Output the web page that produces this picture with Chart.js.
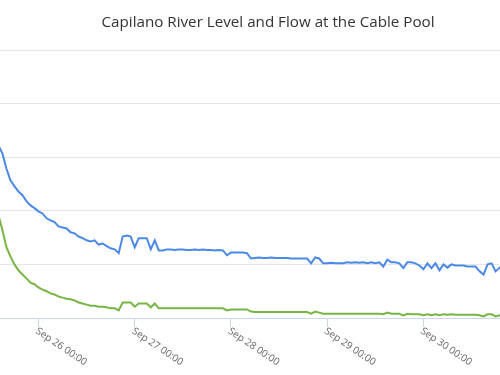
<!DOCTYPE html>
<html>
<head>
<meta charset="utf-8">
<script src="https://cdn.jsdelivr.net/npm/chart.js@4/dist/chart.umd.min.js"></script>
<style>
  html, body { margin: 0; padding: 0; background: #ffffff; }
  #wrap { width: 500px; height: 375px; position: relative; }
</style>
</head>
<body>
<div id="wrap"><canvas id="c"></canvas></div>
<script>
// Chart title
const chartTitle = 'Capilano River Level and Flow at the Cable Pool';

// Hours counted from Sep 25 00:00; first sample at hour 14, one sample per hour
const startHour = 14;

// Tick positions (hours since Sep 25 00:00) and their labels
const tickHours = [24, 48, 72, 96, 120];
const tickLabels = ['Sep 26 00:00', 'Sep 27 00:00', 'Sep 28 00:00', 'Sep 29 00:00', 'Sep 30 00:00'];

// River level (blue), hourly readings
const levelValues = [
  3.22,3.07,2.79,2.57,2.46,2.36,2.29,2.18,2.10,2.05,
  1.99,1.95,1.86,1.82,1.79,1.71,1.69,1.67,1.60,1.58,
  1.52,1.49,1.45,1.43,1.45,1.37,1.39,1.34,1.30,1.28,
  1.21,1.52,1.54,1.52,1.32,1.49,1.49,1.49,1.28,1.45,
  1.26,1.26,1.28,1.28,1.27,1.28,1.28,1.27,1.27,1.28,
  1.27,1.28,1.27,1.27,1.26,1.27,1.26,1.17,1.22,1.22,
  1.22,1.22,1.21,1.11,1.12,1.13,1.12,1.12,1.13,1.12,
  1.12,1.12,1.12,1.11,1.11,1.11,1.11,1.11,1.02,1.13,
  1.11,1.02,1.02,1.03,1.02,1.02,1.02,1.04,1.03,1.04,
  1.03,1.04,1.02,1.04,1.02,1.04,0.96,1.09,1.04,1.04,
  1.02,0.93,1.04,1.04,1.02,0.98,0.91,1.02,0.93,1.02,
  0.89,1.00,0.94,1.00,0.98,0.98,0.98,0.96,0.96,0.96,
  0.87,0.81,1.00,1.02,0.87,0.94,0.96
];

// River flow (green), hourly readings
const flowValues = [
  1.92,1.64,1.32,1.15,1.00,0.89,0.81,0.74,0.66,0.63,
  0.57,0.53,0.50,0.46,0.44,0.40,0.38,0.36,0.35,0.33,
  0.29,0.27,0.25,0.23,0.23,0.21,0.21,0.20,0.18,0.18,
  0.14,0.29,0.29,0.29,0.21,0.27,0.27,0.27,0.20,0.27,
  0.18,0.18,0.18,0.18,0.18,0.18,0.18,0.18,0.18,0.18,
  0.18,0.18,0.18,0.18,0.18,0.18,0.18,0.14,0.16,0.16,
  0.16,0.16,0.16,0.12,0.11,0.11,0.11,0.11,0.11,0.11,
  0.11,0.11,0.11,0.11,0.11,0.11,0.11,0.11,0.08,0.12,
  0.10,0.08,0.08,0.08,0.08,0.08,0.08,0.08,0.08,0.08,
  0.08,0.08,0.08,0.08,0.08,0.08,0.07,0.10,0.08,0.08,
  0.08,0.05,0.08,0.07,0.07,0.07,0.05,0.07,0.05,0.07,
  0.05,0.07,0.06,0.07,0.06,0.06,0.06,0.06,0.06,0.06,
  0.05,0.03,0.07,0.07,0.03,0.05,0.05
];

const toPoints = vals => vals.map((v, i) => ({ x: startHour + i, y: v }));

const decorPlugin = {
  id: 'decor',
  afterDraw(chart) {
    const ctx = chart.ctx;
    const xs = chart.scales.x;
    ctx.save();
    // title
    ctx.fillStyle = '#333333';
    ctx.font = '15.2px "Open Sans", sans-serif';
    ctx.textAlign = 'center';
    ctx.textBaseline = 'alphabetic';
    ctx.fillText(chartTitle, 268, 27);
    // rotated tick labels
    ctx.fillStyle = '#666666';
    ctx.font = '10px "Open Sans", sans-serif';
    ctx.textAlign = 'left';
    ctx.textBaseline = 'top';
    tickHours.forEach((h, i) => {
      const px = xs.getPixelForValue(h);
      ctx.save();
      ctx.translate(px + 1, chart.chartArea.bottom + 8);
      ctx.rotate(34 * Math.PI / 180);
      ctx.fillText(tickLabels[i], 0, 0);
      ctx.restore();
    });
    ctx.restore();
  }
};

new Chart(document.getElementById('c'), {
  type: 'line',
  data: {
    datasets: [
      { label: 'Level', data: toPoints(levelValues), borderColor: '#4a89e8', borderWidth: 2, pointRadius: 0, tension: 0, fill: false },
      { label: 'Flow', data: toPoints(flowValues), borderColor: '#77b545', borderWidth: 2, pointRadius: 0, tension: 0, fill: false }
    ]
  },
  options: {
    responsive: true,
    maintainAspectRatio: false,
    animation: false,
    devicePixelRatio: 1,
    layout: { padding: { top: 50, left: 0, right: 0, bottom: 0 } },
    plugins: { legend: { display: false }, tooltip: { enabled: false }, title: { display: false } },
    scales: {
      x: {
        type: 'linear',
        min: 14.4,
        max: 139.1,
        afterBuildTicks: s => { s.ticks = tickHours.map(v => ({ value: v })); },
        afterFit: s => { s.height = 57; },
        ticks: { display: false },
        grid: { drawOnChartArea: false, drawTicks: true, tickLength: 9, color: '#ccd6eb' },
        border: { display: true, color: '#ccd6eb', width: 1 }
      },
      y: {
        min: 0,
        max: 5,
        afterFit: s => { s.width = 0; },
        ticks: { display: false, stepSize: 1 },
        grid: { drawTicks: false, color: '#e6e6e6' },
        border: { display: false }
      }
    }
  },
  plugins: [decorPlugin]
});
</script>
</body>
</html>
